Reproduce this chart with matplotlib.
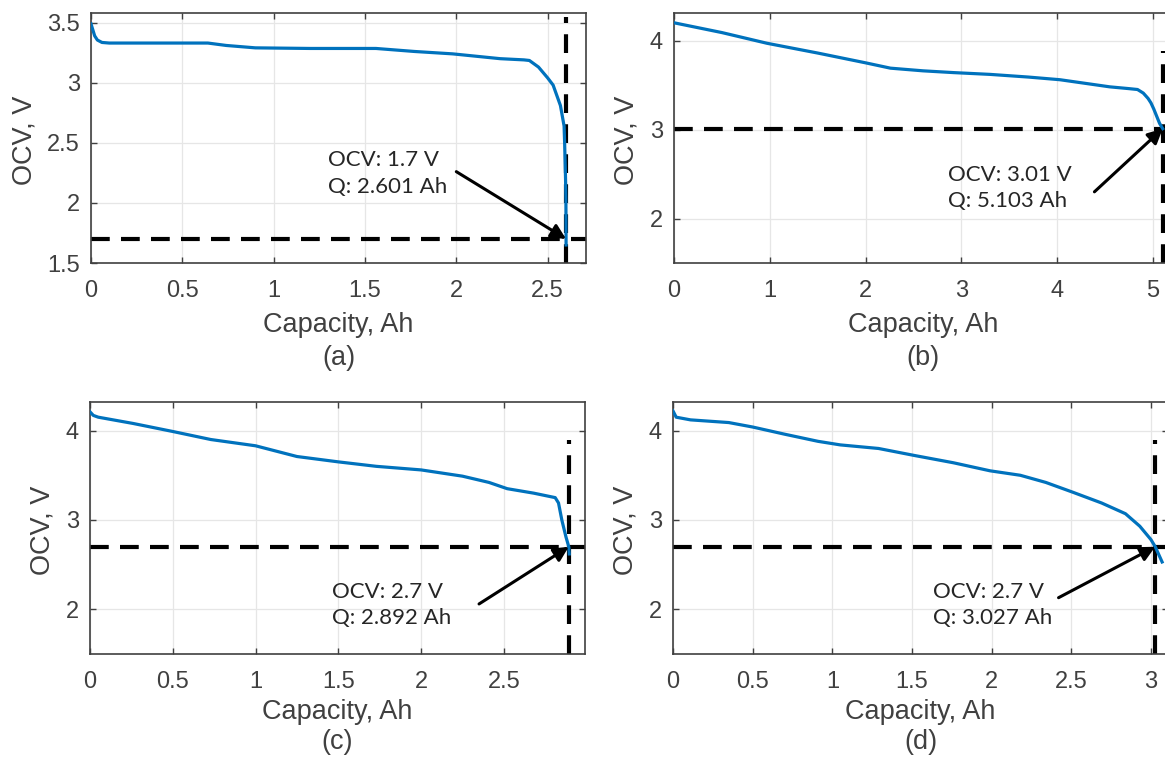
import matplotlib
matplotlib.use('Agg')
import matplotlib.pyplot as plt
from matplotlib.ticker import FuncFormatter

# OCV vs discharged capacity for the four cells
cap_a = [0, 0.01, 0.02, 0.035, 0.06, 0.1, 0.3, 0.64, 0.74, 0.9, 1.2, 1.56, 1.77, 1.98,
         2.24, 2.37, 2.40, 2.45, 2.50, 2.53, 2.57, 2.59, 2.593, 2.598, 2.6, 2.601]
ocv_a = [3.49, 3.44, 3.39, 3.355, 3.335, 3.33, 3.33, 3.33, 3.31, 3.29, 3.285, 3.285, 3.26, 3.24,
         3.20, 3.19, 3.185, 3.13, 3.04, 2.98, 2.81, 2.64, 2.5, 2.2, 2.03, 1.65]

cap_b = [0, 0.5, 0.97, 1.5, 2.0, 2.26, 2.6, 2.92, 3.3, 3.7, 4.03, 4.29, 4.55, 4.75, 4.84,
         4.9, 4.95, 4.98, 5.01, 5.04, 5.07, 5.103]
ocv_b = [4.2, 4.09, 3.97, 3.86, 3.75, 3.69, 3.66, 3.64, 3.62, 3.59, 3.56, 3.52, 3.48, 3.46, 3.45,
         3.41, 3.35, 3.30, 3.23, 3.15, 3.07, 3.01]

cap_c = [0, 0.02, 0.05, 0.26, 0.5, 0.73, 1.0, 1.25, 1.5, 1.73, 2.0, 2.25, 2.41, 2.52, 2.68,
         2.81, 2.83, 2.85, 2.875, 2.892, 2.895]
ocv_c = [4.21, 4.17, 4.15, 4.08, 3.99, 3.9, 3.83, 3.71, 3.65, 3.6, 3.56, 3.49, 3.42, 3.35, 3.3,
         3.25, 3.19, 3.0, 2.81, 2.7, 2.62]

cap_d = [0, 0.02, 0.11, 0.35, 0.5, 0.7, 0.91, 1.05, 1.29, 1.52, 1.76, 1.99, 2.18, 2.34, 2.51,
         2.69, 2.84, 2.93, 3.0, 3.027, 3.07]
ocv_d = [4.22, 4.15, 4.12, 4.09, 4.04, 3.96, 3.88, 3.84, 3.8, 3.72, 3.64, 3.55, 3.5, 3.42, 3.31,
         3.19, 3.07, 2.93, 2.78, 2.7, 2.53]

caps = [cap_a, cap_b, cap_c, cap_d]
ocvs = [ocv_a, ocv_b, ocv_c, ocv_d]

# cut-off points
q_cut = [2.601, 5.103, 2.892, 3.027]
v_cut = [1.7, 3.01, 2.7, 2.7]

panel = ['(a)', '(b)', '(c)', '(d)']
xlims = [(0, 2.71), (0, 5.2), (0, 2.99), (0, 3.107)]
ylims = [(1.5, 3.58), (1.5, 4.31), (1.5, 4.32), (1.5, 4.32)]
xticks = [[0, 0.5, 1, 1.5, 2, 2.5], [0, 1, 2, 3, 4, 5],
          [0, 0.5, 1, 1.5, 2, 2.5], [0, 0.5, 1, 1.5, 2, 2.5, 3]]
yticks = [[1.5, 2, 2.5, 3, 3.5], [2, 3, 4], [2, 3, 4], [2, 3, 4]]

text_xy = [(1.30, 2.245), (2.86, 2.34), (1.46, 2.045), (1.63, 2.05)]
arrow_tail = [(2.0, 2.26), (4.39, 2.30), (2.35, 2.06), (2.42, 2.13)]
vline_top = [3.55, 3.88, 3.9, 3.89]

# axes boxes in pixels: left, top, width, height
boxes = [(91, 13, 495, 250), (674, 13, 498, 250), (90, 402, 495, 252), (673, 402, 495, 252)]

W, H = 1165, 761
plt.rcParams['font.family'] = ['Liberation Sans', 'DejaVu Sans']
gray = '#404040'

fig = plt.figure(figsize=(W / 100, H / 100), dpi=100)

for i in range(4):
    l, t, w, h = boxes[i]
    ax = fig.add_axes([l / W, 1 - (t + h) / H, w / W, h / H])

    ax.axhline(v_cut[i], color='k', lw=3, ls=(0, (4.5, 2.7)), zorder=2)
    ax.plot([q_cut[i], q_cut[i]], [ylims[i][0], vline_top[i]], color='k', lw=3,
            ls=(0, (4.5, 2.7)), zorder=2)
    ax.plot(caps[i], ocvs[i], color='#0072BD', lw=2.3, zorder=3)

    ax.annotate('', xy=(q_cut[i], v_cut[i]), xytext=arrow_tail[i],
                arrowprops=dict(arrowstyle='-|>', color='k', lw=2.2,
                                mutation_scale=22, shrinkA=0, shrinkB=0),
                zorder=4)
    ax.text(text_xy[i][0], text_xy[i][1],
            f'OCV: {v_cut[i]:g} V\nQ: {q_cut[i]:.3f} Ah',
            family=['Lato', 'DejaVu Sans'], fontsize=16, color='#262626',
            ha='left', va='center', linespacing=1.4, zorder=5)

    ax.set_xlim(*xlims[i])
    ax.set_ylim(*ylims[i])
    ax.set_xticks(xticks[i])
    ax.set_yticks(yticks[i])
    fmt = FuncFormatter(lambda v, p: f'{v:g}')
    ax.xaxis.set_major_formatter(fmt)
    ax.yaxis.set_major_formatter(fmt)
    ax.grid(True, color='#e6e6e6', lw=0.9)
    ax.set_axisbelow(True)
    ax.tick_params(direction='in', length=4, width=1, top=True, right=True,
                   labelsize=17, labelcolor=gray, color=gray)
    ax.tick_params(axis='x', pad=12)
    ax.tick_params(axis='y', pad=8)
    for s in ax.spines.values():
        s.set_color(gray)
        s.set_linewidth(1.2)

    ax.set_xlabel('Capacity, Ah', fontsize=19.5, color=gray, va='center')
    ax.set_ylabel('OCV, V', fontsize=19.5, color=gray, va='center')
    top_row = i < 2
    ax.xaxis.set_label_coords(0.5, -0.25 if top_row else -0.232)
    ax.yaxis.set_label_coords(-0.135 if i == 0 else -0.096, 0.49)
    ax.text(0.5, -0.38 if top_row else -0.35, panel[i], transform=ax.transAxes,
            fontsize=19.5, color=gray, ha='center', va='center')

fig.savefig('out.png', dpi=100)
